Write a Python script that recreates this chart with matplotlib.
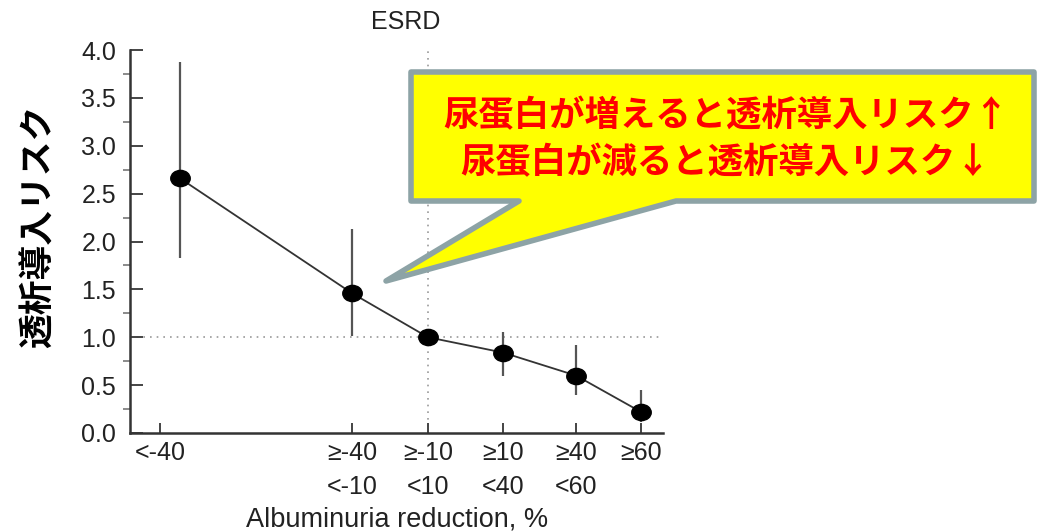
import numpy as np
import matplotlib
matplotlib.use("Agg")
from matplotlib import pyplot as plt
from matplotlib.patches import Polygon
from matplotlib.path import Path
from matplotlib.transforms import Affine2D

# Daten
categories = ["<-40", "≥-40\n<-10", "≥-10\n<10", "≥10\n<40", "≥40\n<60", "≥60"]
hazard = [2.66, 1.46, 1.00, 0.84, 0.60, 0.22]
ci_low = [1.83, 1.01, 1.00, 0.60, 0.40, 0.11]
ci_high = [3.87, 2.13, 1.00, 1.06, 0.92, 0.45]

title_text = "ESRD"
x_label = "Albuminuria reduction, %"
y_label = "透析導入リスク"
callout_lines = ["尿蛋白が増えると透析導入リスク↑", "尿蛋白が減ると透析導入リスク↓"]

# Lage der Kategorien auf der x-Achse (Punkt <-40 sitzt etwas rechts vom Tick)
tick_pos = np.array([30, 222, 298, 373, 446, 511])
point_pos = tick_pos + np.array([20, 0, 0, 0, 0, 0])

W, H = 1039, 531
fig = plt.figure(figsize=(W / 100, H / 100), dpi=100)
ax = fig.add_axes([130 / W, 1 - 433 / H, 533 / W, 383 / H])

LAT = "Liberation Sans"
CJK = ["Noto Sans CJK JP", "DejaVu Sans"]
FS = 18

# leicht breite Punkte wie im Original
oval = Path.unit_circle().transformed(Affine2D().scale(1.2, 1.0))

h = np.array(hazard)
yerr = [h - np.array(ci_low), np.array(ci_high) - h]
ax.errorbar(point_pos, h, yerr=yerr, fmt="none", ecolor="#555555", elinewidth=1.6, capsize=0, zorder=2)
ax.plot(point_pos, h, color="#333333", lw=1.3, zorder=3)
ax.plot(point_pos, h, marker=oval, ls="none", color="black", ms=14, zorder=4)

# Referenzlinien
ax.axhline(1.0, color="#999999", lw=1.2, ls=(0, (1, 3)), zorder=1)
ax.axvline(tick_pos[2], color="#999999", lw=1.2, ls=(0, (1, 3)), zorder=1)

ax.set_xlim(0, 533)
ax.set_ylim(0, 4.0)
ax.set_yticks(np.arange(0, 4.01, 0.5))
ax.set_yticks(np.arange(0.25, 4.0, 0.5), minor=True)
ax.set_yticklabels(["%.1f" % v for v in np.arange(0, 4.01, 0.5)], fontname=LAT, fontsize=FS, color="#222222")
ax.set_xticks(tick_pos)
ax.set_xticklabels(categories, fontname=LAT, fontsize=FS, color="#222222", linespacing=1.5, va="top")
ax.tick_params(axis="both", direction="in", width=1.4, color="#444444")
ax.tick_params(axis="y", which="major", length=9, pad=10)
ax.tick_params(axis="y", which="minor", length=5, width=1.2, color="#777777")
ax.tick_params(axis="x", length=7, pad=6)

for s in ["top", "right"]:
    ax.spines[s].set_visible(False)
for s in ["left", "bottom"]:
    ax.spines[s].set_linewidth(1.8)
    ax.spines[s].set_color("#333333")

fig.text(406 / W, 1 - 22 / H, title_text, fontname=LAT, fontsize=FS, ha="center", va="center", color="#222222")
fig.text(397 / W, 1 - 519 / H, x_label, fontname=LAT, fontsize=19.5, ha="center", va="center", color="#222222")
fig.text(38 / W, 1 - 226 / H, y_label, family=CJK, fontsize=25, fontweight="bold",
         rotation=90, ha="center", va="center", color="black")

# Sprechblase
def px(x, y):
    return (x / W, 1 - y / H)

verts = [px(411, 72), px(1034, 72), px(1034, 201), px(676, 201), px(386, 281), px(519, 201), px(411, 201)]
fig.patches.append(Polygon(verts, closed=True, transform=fig.transFigure, facecolor="#FFFF00",
                           edgecolor="#8DA3A6", lw=4, joinstyle="round", zorder=5))
fig.text(726 / W, 1 - 116 / H, callout_lines[0], family=CJK, fontsize=25.5, fontweight="bold",
         color="#FF0000", ha="center", va="center", zorder=6)
fig.text(726 / W, 1 - 163 / H, callout_lines[1], family=CJK, fontsize=25.5, fontweight="bold",
         color="#FF0000", ha="center", va="center", zorder=6)

fig.savefig("out.png", dpi=100)
